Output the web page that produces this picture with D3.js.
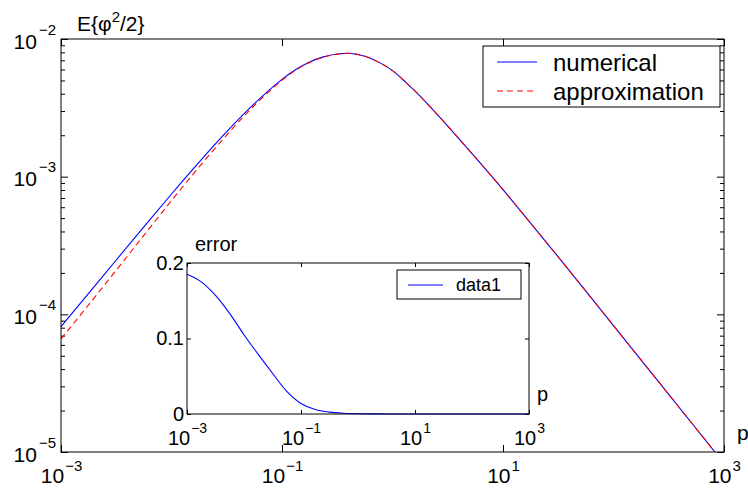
<!DOCTYPE html>
<html><head><meta charset="utf-8">
<script src="https://cdn.jsdelivr.net/npm/d3@7"></script>
<style>body{margin:0;background:#fff} text{font-family:"Liberation Sans",Arial,sans-serif;fill:#000}</style>
</head><body><svg id="c" width="748" height="488"></svg>
<script>
// ---- data ----
const pValues = [0.001, 0.001778, 0.003162, 0.005623, 0.01, 0.01778, 0.03162, 0.05623, 0.1, 0.1334, 0.1778, 0.2371, 0.3162, 0.4217, 0.5623, 0.7499, 1, 1.334, 1.778, 2.371, 3.162, 5.623, 10, 17.78, 31.62, 56.23, 100, 316.2, 1000];
const numerical = [8.128e-5, 1.420e-4, 2.482e-4, 4.324e-4, 7.485e-4, 1.277e-3, 2.125e-3, 3.391e-3, 5.088e-3, 5.998e-3, 6.802e-3, 7.418e-3, 7.780e-3, 7.852e-3, 7.499e-3, 6.792e-3, 5.888e-3, 4.808e-3, 3.846e-3, 3.006e-3, 2.333e-3, 1.380e-3, 8.054e-4, 4.592e-4, 2.612e-4, 1.472e-4, 8.279e-5, 2.618e-5, 8.279e-6];
const approximation = [6.625e-5, 1.172e-4, 2.092e-4, 3.749e-4, 6.699e-4, 1.177e-3, 2.010e-3, 3.290e-3, 5.017e-3, 5.944e-3, 6.761e-3, 7.389e-3, 7.760e-3, 7.852e-3, 7.499e-3, 6.792e-3, 5.888e-3, 4.808e-3, 3.846e-3, 3.006e-3, 2.333e-3, 1.380e-3, 8.054e-4, 4.592e-4, 2.612e-4, 1.472e-4, 8.279e-5, 2.618e-5, 8.279e-6];
const errP = [0.001, 0.001778, 0.003162, 0.005623, 0.01, 0.01778, 0.03162, 0.05623, 0.1, 0.1778, 0.3162, 0.5623, 1, 3.162, 10, 100, 1000];
const errValues = [0.185, 0.175, 0.157, 0.133, 0.105, 0.079, 0.054, 0.030, 0.014, 0.006, 0.0025, 0.001, 0.0004, 0.0001, 0, 0, 0];
const xTickValues = [1e-3, 1e-1, 1e1, 1e3];
const xTickExp = ["\u22123", "\u22121", "1", "3"];
const yTickValues = [1e-5, 1e-4, 1e-3, 1e-2];
const yTickExp = ["\u22125", "\u22124", "\u22123", "\u22122"];
const insetYTicks = [0, 0.1, 0.2];
const insetYLabels = ["0", "0.1", "0.2"];
const legendMain = ["numerical", "approximation"];
const legendInset = ["data1"];

// ---- layout ----
const svg = d3.select("#c");
const M = {l: 61, r: 724, t: 39, b: 452};
const I = {l: 187, r: 529, t: 263, b: 414};
const x = d3.scaleLog().domain([1e-3, 1e3]).range([M.l, M.r]);
const y = d3.scaleLog().domain([1e-5, 1e-2]).range([M.b, M.t]);
const xi = d3.scaleLog().domain([1e-3, 1e3]).range([I.l, I.r]);
const yi = d3.scaleLinear().domain([0, 0.2]).range([I.b, I.t]);

const minorY = [];
for (let d = -5; d < -2; d++) for (let m = 2; m <= 9; m++) minorY.push(m * Math.pow(10, d));

function styleAxis(g) {
  g.select(".domain").remove();
  g.selectAll(".tick line").attr("stroke", "#000");
}
function powText(g, exps, big, small, raise, gap) {
  g.selectAll(".tick text").each(function(d, i) {
    const t = d3.select(this);
    t.text(null).attr("font-size", big).attr("dy", null);
    t.append("tspan").text("10");
    t.append("tspan").attr("dx", gap).attr("dy", -raise).attr("font-size", small).text(exps[i]);
  });
}

// main clip
svg.append("defs").append("clipPath").attr("id", "clipM")
  .append("rect").attr("x", M.l).attr("y", M.t).attr("width", M.r - M.l).attr("height", M.b - M.t);

// main axes
const gx = svg.append("g").attr("transform", `translate(0,${M.b})`)
  .call(d3.axisBottom(x).tickValues(xTickValues).tickSizeInner(-7).tickSizeOuter(0));
styleAxis(gx);
gx.selectAll(".tick text").attr("y", 31);
powText(gx, xTickExp, 21, 15, 12, 1);

const gxt = svg.append("g").attr("transform", `translate(0,${M.t})`)
  .call(d3.axisTop(x).tickValues(xTickValues).tickSizeInner(-7).tickSizeOuter(0).tickFormat(""));
styleAxis(gxt);

const gy = svg.append("g").attr("transform", `translate(${M.l},0)`)
  .call(d3.axisLeft(y).tickValues(yTickValues).tickSizeInner(-7).tickSizeOuter(0));
styleAxis(gy);
gy.selectAll(".tick text").attr("x", -5).attr("y", 9);
powText(gy, yTickExp, 21, 15, 14, 2);
const gym = svg.append("g").attr("transform", `translate(${M.l},0)`)
  .call(d3.axisLeft(y).tickValues(minorY).tickSizeInner(-4).tickSizeOuter(0).tickFormat(""));
styleAxis(gym);

const gyr = svg.append("g").attr("transform", `translate(${M.r},0)`)
  .call(d3.axisRight(y).tickValues(yTickValues).tickSizeInner(-7).tickSizeOuter(0).tickFormat(""));
styleAxis(gyr);
const gyrm = svg.append("g").attr("transform", `translate(${M.r},0)`)
  .call(d3.axisRight(y).tickValues(minorY).tickSizeInner(-4).tickSizeOuter(0).tickFormat(""));
styleAxis(gyrm);

// main curves
const lineM = d3.line().x(d => x(d[0])).y(d => y(d[1])).curve(d3.curveCatmullRom.alpha(0.5));
const plotM = svg.append("g").attr("clip-path", "url(#clipM)");
plotM.append("path").datum(pValues.map((p, i) => [p, numerical[i]]))
  .attr("d", lineM).attr("fill", "none").attr("stroke", "#0000ff").attr("stroke-width", 1.1);
plotM.append("path").datum(pValues.map((p, i) => [p, approximation[i]]))
  .attr("d", lineM).attr("fill", "none").attr("stroke", "#ff0000").attr("stroke-width", 1.1)
  .attr("stroke-dasharray", "6,4");

svg.append("rect").attr("x", M.l).attr("y", M.t).attr("width", M.r - M.l).attr("height", M.b - M.t)
  .attr("fill", "none").attr("stroke", "#000").attr("stroke-width", 1);

// main labels
const tt = svg.append("text").attr("x", 77).attr("y", 31).attr("font-size", 21);
tt.append("tspan").text("E{\u03c6");
tt.append("tspan").attr("dy", -9).attr("font-size", 15).text("2");
tt.append("tspan").attr("dy", 9).text("/2}");
svg.append("text").attr("x", 737).attr("y", 440).attr("font-size", 21).text("p");

// main legend
const lg = svg.append("g");
lg.append("rect").attr("x", 483).attr("y", 46).attr("width", 237).attr("height", 61)
  .attr("fill", "#fff").attr("stroke", "#000");
const legColors = ["#0000ff", "#ff0000"];
const legDash = [null, "6,4"];
legendMain.forEach((s, i) => {
  const yy = 62 + i * 29;
  lg.append("line").attr("x1", 497).attr("x2", 537).attr("y1", yy).attr("y2", yy)
    .attr("stroke", legColors[i]).attr("stroke-width", 1.1).attr("stroke-dasharray", legDash[i]);
  lg.append("text").attr("x", 553).attr("y", yy + 9).attr("font-size", 24).text(s);
});

// ---- inset ----
svg.append("rect").attr("x", I.l).attr("y", I.t).attr("width", I.r - I.l).attr("height", I.b - I.t)
  .attr("fill", "#fff");
const ix = svg.append("g").attr("transform", `translate(0,${I.b})`)
  .call(d3.axisBottom(xi).tickValues(xTickValues).tickSizeInner(-4).tickSizeOuter(0));
styleAxis(ix);
ix.selectAll(".tick text").attr("y", 31);
powText(ix, xTickExp, 20, 14, 12, 1);
const ixt = svg.append("g").attr("transform", `translate(0,${I.t})`)
  .call(d3.axisTop(xi).tickValues(xTickValues).tickSizeInner(-4).tickSizeOuter(0).tickFormat(""));
styleAxis(ixt);
const iy = svg.append("g").attr("transform", `translate(${I.l},0)`)
  .call(d3.axisLeft(yi).tickValues(insetYTicks).tickSizeInner(-4).tickSizeOuter(0)
    .tickFormat((d, i) => insetYLabels[i]));
styleAxis(iy);
iy.selectAll(".tick text").attr("x", -3).attr("font-size", 20);
const iyr = svg.append("g").attr("transform", `translate(${I.r},0)`)
  .call(d3.axisRight(yi).tickValues(insetYTicks).tickSizeInner(-4).tickSizeOuter(0).tickFormat(""));
styleAxis(iyr);

const lineI = d3.line().x(d => xi(d[0])).y(d => yi(d[1])).curve(d3.curveCatmullRom.alpha(0.5));
svg.append("path").datum(errP.map((p, i) => [p, errValues[i]]))
  .attr("d", lineI).attr("fill", "none").attr("stroke", "#0000ff").attr("stroke-width", 1.1);
svg.append("rect").attr("x", I.l).attr("y", I.t).attr("width", I.r - I.l).attr("height", I.b - I.t)
  .attr("fill", "none").attr("stroke", "#000");

svg.append("text").attr("x", 195).attr("y", 251).attr("font-size", 20).text("error");
svg.append("text").attr("x", 537).attr("y", 401).attr("font-size", 20).text("p");

// inset legend
svg.append("rect").attr("x", 397).attr("y", 270).attr("width", 124).attr("height", 29)
  .attr("fill", "#fff").attr("stroke", "#000");
legendInset.forEach((s, i) => {
  svg.append("line").attr("x1", 408).attr("x2", 443).attr("y1", 285).attr("y2", 285)
    .attr("stroke", "#0000ff").attr("stroke-width", 1.1);
  svg.append("text").attr("x", 456).attr("y", 291).attr("font-size", 18).text(s);
});
</script></body></html>
